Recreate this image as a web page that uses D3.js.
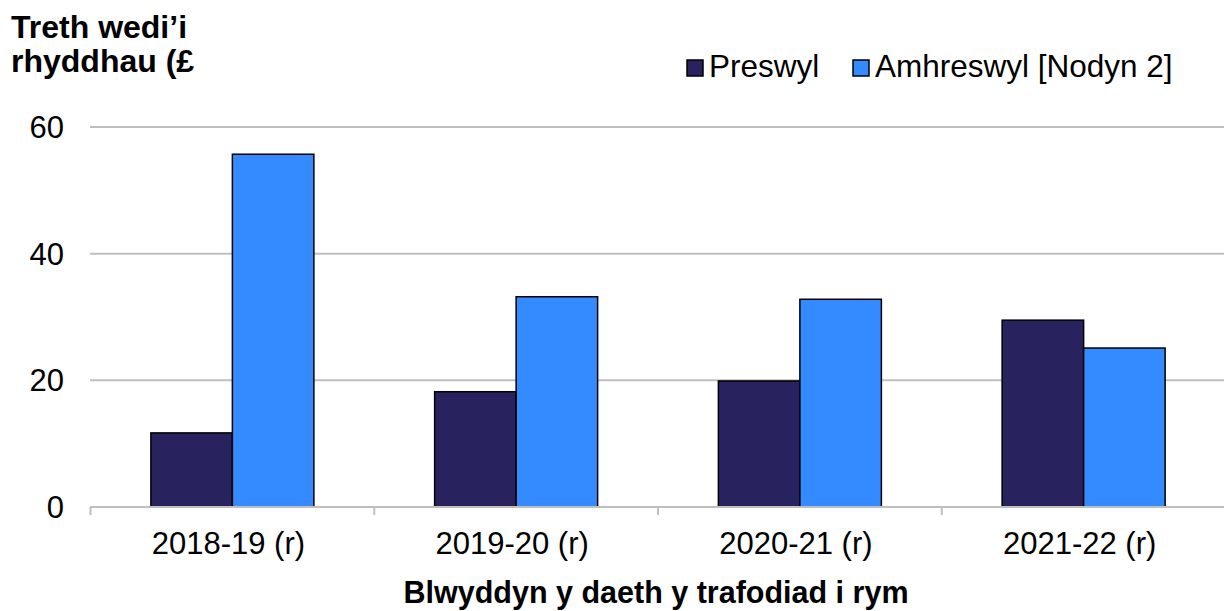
<!DOCTYPE html>
<html>
<head>
<meta charset="utf-8">
<script src="https://cdn.jsdelivr.net/npm/d3@7"></script>
<style>
  body { margin: 0; background: #fff; }
  text { font-family: "Liberation Sans", Arial, sans-serif; fill: #000; }
</style>
</head>
<body>
<svg id="chart" width="1224" height="611"></svg>
<script>
var categories = ["2018-19 (r)", "2019-20 (r)", "2020-21 (r)", "2021-22 (r)"];
var seriesNames = ["Preswyl", "Amhreswyl [Nodyn 2]"];
var preswyl = [11.7, 18.2, 19.9, 29.5];
var amhreswyl = [55.7, 33.2, 32.8, 25.1];
var yTicks = [0, 20, 40, 60];
var colors = ["#28235f", "#338bff"];

var svg = d3.select("#chart");

var x = d3.scaleBand()
    .domain(categories)
    .range([90.5, 1225.5])
    .paddingInner(0)
    .paddingOuter(0);

var y = d3.scaleLinear()
    .domain([0, 60])
    .range([507, 127]);

var barW = 81.5;
var inner = d3.scaleBand()
    .domain([0, 1])
    .range([0, barW * 2]);

// gridlines
svg.append("g")
    .selectAll("line")
    .data(yTicks.filter(function(d) { return d > 0; }))
    .enter().append("line")
    .attr("x1", 90).attr("x2", 1224)
    .attr("y1", function(d) { return y(d); })
    .attr("y2", function(d) { return y(d); })
    .attr("stroke", "#bfbfbf")
    .attr("stroke-width", 2);

// y tick labels
svg.append("g")
    .selectAll("text")
    .data(yTicks)
    .enter().append("text")
    .attr("x", 64)
    .attr("y", function(d) { return y(d) + 11; })
    .attr("text-anchor", "end")
    .style("font-size", "31px")
    .text(function(d) { return d; });

// bars
var rows = categories.map(function(c, i) { return { cat: c, vals: [preswyl[i], amhreswyl[i]] }; });
var groups = svg.append("g")
    .selectAll("g")
    .data(rows)
    .enter().append("g")
    .attr("transform", function(d) { return "translate(" + (x(d.cat) + x.bandwidth() / 2 - barW) + ",0)"; });

groups.selectAll("rect")
    .data(function(d) { return d.vals; })
    .enter().append("rect")
    .attr("x", function(d, i) { return inner(i); })
    .attr("width", inner.bandwidth())
    .attr("y", function(d) { return y(d); })
    .attr("height", function(d) { return y(0) - y(d); })
    .attr("fill", function(d, i) { return colors[i]; })
    .attr("stroke", "#000")
    .attr("stroke-width", 1.5);

// x axis
var xAxis = svg.append("g");
xAxis.append("line")
    .attr("x1", 90).attr("x2", 1224)
    .attr("y1", 507).attr("y2", 507)
    .attr("stroke", "#bfbfbf")
    .attr("stroke-width", 2);
xAxis.selectAll(".tick")
    .data(categories)
    .enter().append("line")
    .attr("x1", function(d) { return x(d); })
    .attr("x2", function(d) { return x(d); })
    .attr("y1", 507).attr("y2", 515)
    .attr("stroke", "#bfbfbf")
    .attr("stroke-width", 2);
xAxis.selectAll("text")
    .data(categories)
    .enter().append("text")
    .attr("x", function(d) { return x(d) + x.bandwidth() / 2 - 4; })
    .attr("y", 554)
    .attr("text-anchor", "middle")
    .style("font-size", "31px")
    .text(function(d) { return d; });

// axis titles
svg.append("text")
    .attr("x", 11).attr("y", 38)
    .style("font-size", "32px").style("font-weight", "bold")
    .text("Treth wedi\u2019i");
svg.append("text")
    .attr("x", 11).attr("y", 72)
    .style("font-size", "32px").style("font-weight", "bold")
    .text("rhyddhau (\u00a3");
svg.append("text")
    .attr("x", 656).attr("y", 603)
    .attr("text-anchor", "middle")
    .style("font-size", "30.5px").style("font-weight", "bold")
    .text("Blwyddyn y daeth y trafodiad i rym");

// legend
var legendX = [687, 853];
var legend = svg.append("g")
    .selectAll("g")
    .data(seriesNames)
    .enter().append("g")
    .attr("transform", function(d, i) { return "translate(" + legendX[i] + ",60)"; });
legend.append("rect")
    .attr("width", 16).attr("height", 16)
    .attr("fill", function(d, i) { return colors[i]; })
    .attr("stroke", "#000").attr("stroke-width", 1.5);
legend.append("text")
    .attr("x", 22).attr("y", 17)
    .style("font-size", "31.5px")
    .text(function(d) { return d; });
</script>
</body>
</html>
